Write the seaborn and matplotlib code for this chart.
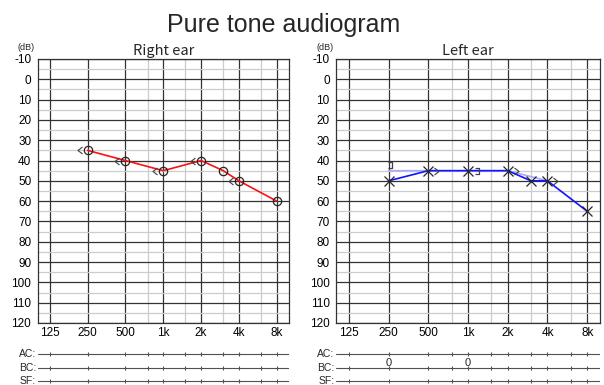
import numpy as np
import matplotlib
matplotlib.use("Agg")
import matplotlib.pyplot as plt
from matplotlib.path import Path
from matplotlib.ticker import FixedLocator, NullFormatter
import seaborn as sns

# Axis setup
freq_ticks = [125, 250, 500, 1000, 2000, 4000, 8000]
freq_labels = ['125', '250', '500', '1k', '2k', '4k', '8k']
freq_minor = [750, 1500, 3000, 6000]
db_ticks = list(range(-10, 121, 10))
db_minor = list(range(-5, 120, 10))

# Right ear (air conduction O, bone conduction <)
right_ac_freq = [250, 500, 1000, 2000, 3000, 4000, 8000]
right_ac_db = [35, 40, 45, 40, 45, 50, 60]
right_bc_freq = [250, 500, 1000, 2000, 4000]
right_bc_db = [35, 40, 45, 40, 50]

# Left ear (air conduction X, bone conduction >, masked bone ])
left_ac_freq = [250, 500, 1000, 2000, 3000, 4000, 8000]
left_ac_db = [50, 45, 45, 45, 50, 50, 65]
left_bc_freq = [500, 2000, 4000]
left_bc_db = [45, 45, 50]
left_mbc_freq = [1000]
left_mbc_db = [45]
left_mbc_low_freq = [250]
left_mbc_low_db = [45]
left_bcline_freq = [250, 500, 1000, 2000, 4000]
left_bcline_db = [45, 45, 45, 45, 50]

# Masking rows under the charts
row_names = ['AC', 'BC', 'SF']
left_bc_mask_freq = [250, 1000]
left_bc_mask_text = ['0', '0']

sns.set_style('white')
plt.rcParams['font.family'] = ['Liberation Sans', 'DejaVu Sans']
plt.rcParams['axes.unicode_minus'] = False

GRID_DARK = '#333333'
GRID_LIGHT = '#cccccc'
INK = '#262626'


def px_marker(verts):
    # marker path given in pixels around the data point
    v = np.array(verts, float)
    size = 2 * np.abs(v).max() * 72 / 100
    codes = [Path.MOVETO] + [Path.LINETO] * (len(v) - 1)
    return Path(v, codes), size


lt_mark, lt_size = px_marker([(-6, 3.5), (-10.5, 0), (-6, -3.5)])
gt_mark, gt_size = px_marker([(6, 3.5), (10.5, 0), (6, -3.5)])
br_mark, br_size = px_marker([(6.5, 3), (11, 3), (11, -3), (6.5, -3)])
br_low_mark, br_low_size = px_marker([(-1.5, 9), (3, 9), (3, 3), (-1.5, 3)])


def style_panel(ax, title):
    ax.set_xscale('log')
    ax.set_xlim(100, 10000)
    ax.set_ylim(120, -10)
    ax.xaxis.set_major_locator(FixedLocator(freq_ticks))
    ax.xaxis.set_minor_locator(FixedLocator(freq_minor))
    ax.set_xticklabels(freq_labels)
    ax.xaxis.set_minor_formatter(NullFormatter())
    ax.yaxis.set_major_locator(FixedLocator(db_ticks))
    ax.yaxis.set_minor_locator(FixedLocator(db_minor))
    ax.grid(which='major', color=GRID_DARK, lw=0.9)
    ax.grid(which='minor', color=GRID_LIGHT, lw=0.9)
    ax.set_axisbelow(True)
    ax.tick_params(which='both', length=0, labelsize=8.5, colors='black')
    ax.tick_params(axis='y', pad=4.5)
    ax.tick_params(axis='x', pad=3)
    for s in ax.spines.values():
        s.set_visible(True)
        s.set_color(GRID_DARK)
        s.set_linewidth(0.9)
    ax.set_xlabel('')
    ax.set_ylabel('')
    ax.set_title(title, fontsize=10.5, pad=3, family=['Noto Sans CJK KR', 'DejaVu Sans'])
    ax.annotate('(dB)', xy=(0, 1), xycoords='axes fraction', xytext=(-8, 8),
                textcoords='offset points', ha='center', va='center', fontsize=6.5)


def draw_rows(ax, marks=None):
    ax.set_xscale('log')
    ax.set_xlim(100, 10000)
    ax.set_ylim(0, 45)
    ax.axis('off')
    all_freqs = sorted(freq_ticks + freq_minor)
    for name, y in zip(row_names, [31, 17, 4]):
        ax.plot([100, 10000], [y, y], color='#505050', lw=0.8)
        ax.plot(all_freqs, [y] * len(all_freqs), ls='', marker='|', ms=2.5,
                mew=0.8, color='#505050')
        ax.annotate(name + ':', xy=(100, y), xytext=(-1, 0), textcoords='offset points',
                    ha='right', va='center', fontsize=7.5)
        if marks and name in marks:
            for f, t in zip(*marks[name]):
                ax.text(f, y + 0.5, t, ha='center', va='bottom', fontsize=8)


fig = plt.figure(figsize=(6.04, 3.85), dpi=100)

ax_r = fig.add_axes([37.5 / 604, 62 / 385, 251.5 / 604, 264 / 385])
ax_l = fig.add_axes([336 / 604, 62 / 385, 264 / 604, 264 / 385])
row_r = fig.add_axes([37.5 / 604, 0, 251.5 / 604, 45 / 385])
row_l = fig.add_axes([336 / 604, 0, 264 / 604, 45 / 385])

for ax in (ax_r, ax_l):
    ax.set_xscale('log')

# Right ear
sns.lineplot(x=right_ac_freq, y=right_ac_db, ax=ax_r, color='#ff1010', lw=1.2,
             marker='o', markersize=6, markerfacecolor='none',
             markeredgecolor=INK, markeredgewidth=0.9)
ax_r.plot(right_bc_freq, right_bc_db, ls='', marker=lt_mark, ms=lt_size,
          mfc='none', mec='#404040', mew=0.8)

# Left ear
sns.lineplot(x=left_bcline_freq, y=left_bcline_db, ax=ax_l, color='#a9a9ff', lw=1.2)
sns.lineplot(x=left_ac_freq, y=left_ac_db, ax=ax_l, color='#1414ff', lw=1.2,
             marker='x', markersize=7, markeredgecolor=INK, markeredgewidth=0.9)
ax_l.plot(left_bc_freq, left_bc_db, ls='', marker=gt_mark, ms=gt_size,
          mfc='none', mec='#404040', mew=0.8)
ax_l.plot(left_mbc_freq, left_mbc_db, ls='', marker=br_mark, ms=br_size,
          mfc='none', mec='#404040', mew=0.9)
ax_l.plot(left_mbc_low_freq, left_mbc_low_db, ls='', marker=br_low_mark, ms=br_low_size,
          mfc='none', mec='#404040', mew=0.9)

style_panel(ax_r, 'Right ear')
style_panel(ax_l, 'Left ear')

draw_rows(row_r)
draw_rows(row_l, {'BC': (left_bc_mask_freq, left_bc_mask_text)})

fig.text(284 / 604, 1 - 32 / 385, 'Pure tone audiogram', ha='center', va='baseline',
         fontsize=18)

fig.savefig('out.png', dpi=100)
